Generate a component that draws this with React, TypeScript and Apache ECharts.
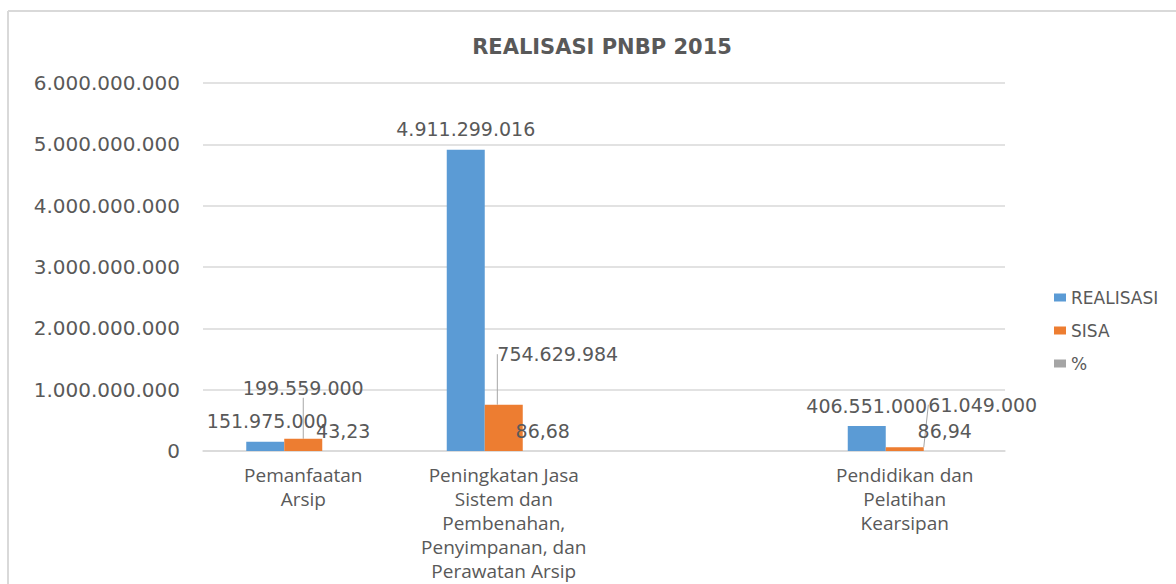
import React, { useEffect, useRef } from "react";
import * as echarts from "echarts";

const categories = [
  "Pemanfaatan\nArsip",
  "Peningkatan Jasa\nSistem dan\nPembenahan,\nPenyimpanan, dan\nPerawatan Arsip",
  "",
  "Pendidikan dan\nPelatihan\nKearsipan",
];
const realisasi: (number | null)[] = [151975000, 4911299016, null, 406551000];
const sisa: (number | null)[] = [199559000, 754629984, null, 61049000];
const persen: (number | null)[] = [43.23, 86.68, null, 86.94];
const yTicks = { min: 0, max: 6000000000, interval: 1000000000 };

// label offsets (layout only), per series then per category
const labelShift: [number, number][][] = [
  [[2, 0], [0, 0], [0, 0], [0, 0]],
  [[0, -30], [54, -30], [0, 0], [78, -22]],
  [[2, 0], [1, 0], [0, 0], [2, 0]],
];

const dotFmt = (v: number) =>
  Math.round(v).toString().replace(/\B(?=(\d{3})+(?!\d))/g, ".");
const pctFmt = (v: number) => v.toFixed(2).replace(".", ",");

const GREY = "#595959";
const NUM_FONT = "DejaVu Sans";

export default function App() {
  const ref = useRef<HTMLDivElement>(null);
  useEffect(() => {
    if (!ref.current) return;
    const chart = echarts.init(ref.current, undefined, { renderer: "svg" });
    const mkSeries = (name: string, values: (number | null)[], color: string, idx: number, pct: boolean) => ({
      name,
      type: "bar",
      data: values.map((v, i) => {
        const s = labelShift[idx][i];
        const moved = Math.abs(s[0]) > 5 || Math.abs(s[1]) > 5;
        return { value: v, labelLine: { show: moved } };
      }),
      barWidth: 38,
      barGap: "0%",
      itemStyle: { color },
      label: {
        show: true,
        position: "top",
        distance: 11,
        fontFamily: NUM_FONT,
        fontSize: 19,
        color: GREY,
        formatter: (p: any) =>
          p.value == null ? "" : pct ? pctFmt(p.value) : dotFmt(p.value),
      },
      labelLine: {
        show: false,
        lineStyle: { color: "#a6a6a6", width: 1 },
      },
      labelLayout: (p: any) => {
        const s = labelShift[idx][p.dataIndex] || [0, 0];
        return { dx: s[0], dy: s[1] };
      },
    });
    chart.setOption({
      animation: false,
      backgroundColor: "#ffffff",
      title: {
        text: "REALISASI PNBP 2015",
        left: 597,
        top: 31,
        textAlign: "center",
        textStyle: {
          fontFamily: "DejaVu Sans",
          fontWeight: "bold",
          fontSize: 21,
          color: GREY,
        },
      },
      legend: {
        orient: "vertical",
        left: 1049,
        top: 284,
        itemWidth: 12,
        itemHeight: 8,
        itemGap: 16,
        icon: "rect",
        textStyle: { fontFamily: "DejaVu Sans", fontSize: 17, color: GREY },
        data: ["REALISASI", "SISA", "%"],
      },
      grid: { left: 203, right: 171, top: 83, bottom: 133 },
      xAxis: {
        type: "category",
        data: categories,
        axisTick: { show: false },
        axisLine: { lineStyle: { color: "#d9d9d9", width: 1.5 } },
        axisLabel: {
          interval: 0,
          margin: 12,
          fontFamily: "Open Sans",
          fontSize: 19,
          lineHeight: 24,
          color: GREY,
        },
      },
      yAxis: {
        type: "value",
        min: yTicks.min,
        max: yTicks.max,
        interval: yTicks.interval,
        axisLine: { show: false },
        axisTick: { show: false },
        splitLine: { lineStyle: { color: "#d9d9d9", width: 1.5 } },
        axisLabel: {
          margin: 23,
          fontFamily: NUM_FONT,
          fontSize: 20,
          color: GREY,
          formatter: (v: number) => dotFmt(v),
        },
      },
      graphic: [
        {
          type: "line",
          shape: { x1: 8, y1: 11, x2: 1176, y2: 11 },
          style: { stroke: "#d9d9d9", lineWidth: 2 },
          silent: true,
        },
        {
          type: "line",
          shape: { x1: 8, y1: 11, x2: 8, y2: 584 },
          style: { stroke: "#d9d9d9", lineWidth: 2 },
          silent: true,
        },
      ],
      series: [
        mkSeries("REALISASI", realisasi, "#5b9bd5", 0, false),
        mkSeries("SISA", sisa, "#ed7d31", 1, false),
        mkSeries("%", persen, "#a5a5a5", 2, true),
      ],
    });
    return () => chart.dispose();
  }, []);
  return (
    <div
      ref={ref}
      style={{ position: "absolute", left: 0, top: 0, width: 1176, height: 584 }}
    />
  );
}
